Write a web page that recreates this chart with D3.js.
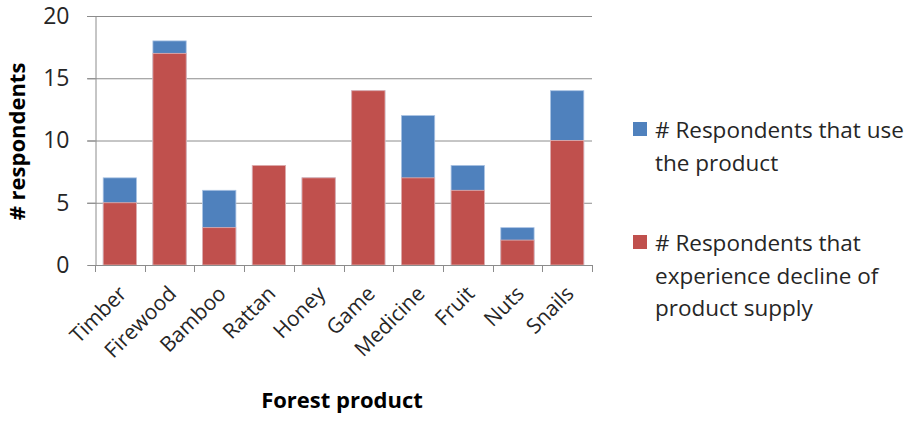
<!DOCTYPE html>
<html>
<head>
<meta charset="utf-8">
<script src="https://cdn.jsdelivr.net/npm/d3@7"></script>
<style>
  html, body { margin: 0; padding: 0; background: #fff; }
  svg { display: block; font-family: "Open Sans", "Liberation Sans", sans-serif; }
</style>
</head>
<body>
<svg id="chart" width="914" height="421"></svg>
<script>
// Forest products and survey counts
const categories = ["Timber", "Firewood", "Bamboo", "Rattan", "Honey", "Game", "Medicine", "Fruit", "Nuts", "Snails"];
const useCounts = [7, 18, 6, 8, 7, 14, 12, 8, 3, 14];
const declineCounts = [5, 17, 3, 8, 7, 14, 7, 6, 2, 10];
const yTicks = [0, 5, 10, 15, 20];
const seriesNames = ["# Respondents that use the product", "# Respondents that experience decline of product supply"];
const legendLines = [["# Respondents that use", "the product"], ["# Respondents that", "experience decline of", "product supply"]];
const colors = ["#4F81BD", "#C0504D"];

const svg = d3.select("#chart");
const plot = { left: 95, right: 592, top: 16, bottom: 265 };

const x = d3.scaleBand().domain(categories).range([plot.left, plot.right]).paddingInner(0.33).paddingOuter(0.165);
const y = d3.scaleLinear().domain([0, 20]).range([plot.bottom, plot.top]);

// Horizontal gridlines
svg.append("g").selectAll("line").data(yTicks.filter(d => d > 0)).join("line")
  .attr("x1", plot.left - 8).attr("x2", plot.right)
  .attr("y1", d => y(d) + 0.5).attr("y2", d => y(d) + 0.5)
  .attr("stroke", "#8c8c8c").attr("stroke-width", 1);

// Y axis
const yAxis = svg.append("g").attr("transform", `translate(${plot.left + 0.5},0)`)
  .call(d3.axisLeft(y).tickValues(yTicks).tickSize(8).tickPadding(18));
yAxis.select(".domain").attr("stroke", "#8c8c8c");
yAxis.selectAll(".tick line").attr("stroke", "#8c8c8c");
yAxis.selectAll(".tick text").attr("font-size", 23).attr("fill", "#262626")
  .attr("font-family", "'Open Sans', sans-serif");

// Bars: the usage count is drawn first and the decline count over it
const barGroups = svg.append("g");
[useCounts, declineCounts].forEach((vals, si) => {
  barGroups.append("g").selectAll("rect").data(vals).join("rect")
    .attr("x", (d, i) => x(categories[i]))
    .attr("width", x.bandwidth())
    .attr("y", d => y(d))
    .attr("height", d => y(0) - y(d))
    .attr("fill", colors[si])
    .attr("stroke", si === 0 ? "#a9c2e3" : "#e6b3b2")
    .attr("stroke-width", 0.8);
});

// X axis with ticks between categories
const xg = svg.append("g");
xg.append("line").attr("x1", plot.left).attr("x2", plot.right + 0.5)
  .attr("y1", plot.bottom + 0.5).attr("y2", plot.bottom + 0.5).attr("stroke", "#8c8c8c");
const boundaries = d3.range(categories.length + 1).map(i => plot.left + i * (plot.right - plot.left) / categories.length);
xg.selectAll("line.tk").data(boundaries).join("line").attr("class", "tk")
  .attr("x1", d => Math.round(d) + 0.5).attr("x2", d => Math.round(d) + 0.5)
  .attr("y1", plot.bottom).attr("y2", plot.bottom + 7).attr("stroke", "#8c8c8c");

xg.selectAll("text").data(categories).join("text")
  .attr("transform", d => `translate(${x(d) + x.bandwidth() / 2 + 8},${plot.bottom + 30}) rotate(-45)`)
  .attr("text-anchor", "end").attr("font-size", 21).attr("fill", "#262626")
  .text(d => d);

// Axis titles
svg.append("text").attr("x", 342).attr("y", 408).attr("text-anchor", "middle")
  .attr("font-size", 22).attr("font-weight", "bold").attr("fill", "#000").text("Forest product");
svg.append("text").attr("transform", `translate(25,${(plot.top + plot.bottom) / 2 + 1}) rotate(-90)`)
  .attr("text-anchor", "middle").attr("font-size", 22).attr("font-weight", "bold").attr("fill", "#000")
  .text("# respondents");

// Legend
const legend = svg.append("g");
const legendTops = [122, 235];
seriesNames.forEach((name, i) => {
  const g = legend.append("g").attr("transform", `translate(633,${legendTops[i]})`);
  g.append("rect").attr("width", 14).attr("height", 14).attr("fill", colors[i]);
  const t = g.append("text").attr("x", 22).attr("y", 16).attr("font-size", 22.5).attr("fill", "#262626");
  legendLines[i].forEach((ln, j) => {
    t.append("tspan").attr("x", 22).attr("dy", j === 0 ? 0 : 32.5).text(ln);
  });
});
</script>
</body>
</html>
